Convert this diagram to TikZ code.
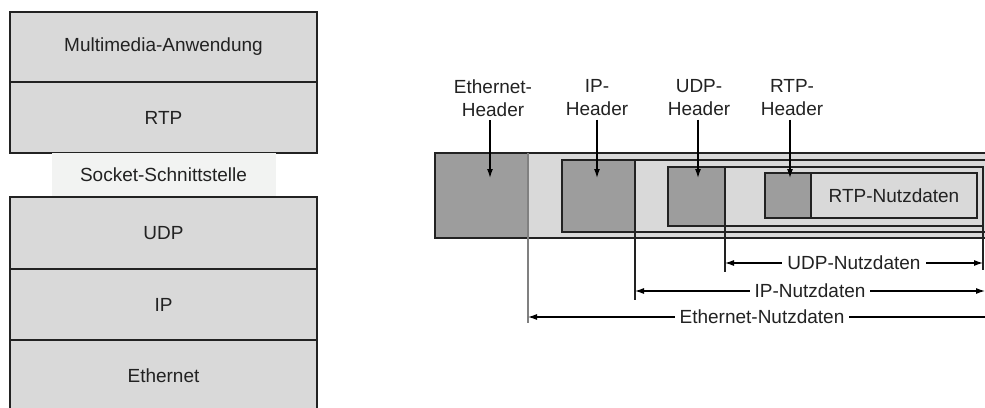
\documentclass[tikz,border=0pt]{standalone}
\usepackage{fontspec}
\setmainfont{Liberation Sans}
\usepackage{tikz}
\usetikzlibrary{arrows.meta, positioning}
\definecolor{layergray}{HTML}{D9D9D9}
\definecolor{bandgray}{HTML}{F2F3F2}
\definecolor{hdrgray}{HTML}{9D9D9D}
\definecolor{edge}{HTML}{222222}
\tikzstyle{layer}=[draw=edge,fill=layergray,rectangle,line width=1.4pt,minimum width=307pt,inner sep=0pt,outer sep=0pt]
\tikzstyle{band}=[fill=bandgray,rectangle,minimum width=224pt,minimum height=44pt,inner sep=0pt,outer sep=0pt]
\tikzstyle{frame}=[draw=edge,fill=layergray,line width=1.2pt]
\tikzstyle{header}=[draw=edge,fill=hdrgray,rectangle,line width=1.2pt,inner sep=0pt,outer sep=0pt]
\tikzstyle{every node}=[font=\fontsize{19}{23}\selectfont,text=edge]

\begin{document}
\begin{tikzpicture}[x=1pt,y=-1pt,>={Latex[length=9pt,width=6pt]}]
    \useasboundingbox (0,0) rectangle (985,407);
    % protocol stack
    \node[layer, minimum height=70pt] (app) at (163.5,47) {Multimedia-Anwendung};
    \node[layer, below=0pt of app, minimum height=71pt] (rtp) {RTP};
    \node[band, below=0pt of rtp] (sock) {Socket-Schnittstelle};
    \node[layer, below=0pt of sock, minimum height=72pt] (udp) {UDP};
    \node[layer, below=0pt of udp, minimum height=71pt] (ip) {IP};
    \node[layer, below=0pt of ip, minimum height=72pt] (eth) {Ethernet};
    % nested frames
    \draw[frame] (435,153) rectangle (1000,238);
    \draw[frame] (562,160) rectangle (1000,232);
    \draw[frame] (668,167) rectangle (983,226);
    \node[header, draw=none, minimum width=93pt, minimum height=85pt] (ethh) at (481.5,195.5) {};
    \draw[edge, line width=1.2pt] (435,153) rectangle (1000,238);
    \node[header, minimum width=73pt, minimum height=72pt] (iph) at (598.5,196) {};
    \node[header, minimum width=57pt, minimum height=59pt] (udph) at (696.5,196.5) {};
    \node[header, minimum width=46pt, minimum height=45pt] (rtph) at (788,195.5) {};
    \node[header, fill=layergray, minimum width=166pt, minimum height=45pt, right=0pt of rtph] (rtpd) {RTP-Nutzdaten};
    % header labels
    \node[align=center] (ethl) at (493,98) {Ethernet-\\Header};
    \node[align=center] (ipl) at (597,98) {IP-\\Header};
    \node[align=center] (udpl) at (699,98) {UDP-\\Header};
    \node[align=center] (rtpl) at (792,98) {RTP-\\Header};
    \coordinate (etht) at (490,178);
    \coordinate (ipt) at (597,178);
    \coordinate (udpt) at (698,178);
    \coordinate (rtpt) at (790,178);
    \draw[->, line width=1.3pt] (ethl.south -| etht) -- (etht);
    \draw[->, line width=1.3pt] (ipl.south -| ipt) -- (ipt);
    \draw[->, line width=1.3pt] (udpl.south -| udpt) -- (udpt);
    \draw[->, line width=1.3pt] (rtpl.south -| rtpt) -- (rtpt);
    % payload lengths
    \coordinate (ethe) at (528,323);
    \coordinate (ipe) at (635,300);
    \coordinate (udpe) at (725,272);
    \coordinate (udpr) at (983,270);
    \draw[gray, line width=1.2pt] (ethh.north east) -- (ethe);
    \draw[edge, line width=1.1pt] (iph.north east) -- (ipe);
    \draw[edge, line width=1.1pt] (udph.north east) -- (udpe);
    \draw[edge, line width=1.1pt] (983,167) -- (udpr);
    \draw[<->, line width=1.1pt] (725,263) -- node[fill=white, inner xsep=5pt, inner ysep=1pt] {UDP-Nutzdaten} (983,263);
    \draw[<->, line width=1.1pt] (635,291) -- node[fill=white, inner xsep=5pt, inner ysep=1pt] {IP-Nutzdaten} (985,291);
    \draw[<->, line width=1.1pt] (528,317) -- node[fill=white, inner xsep=5pt, inner ysep=1pt] {Ethernet-Nutzdaten} (996,317);
\end{tikzpicture}
\end{document}
